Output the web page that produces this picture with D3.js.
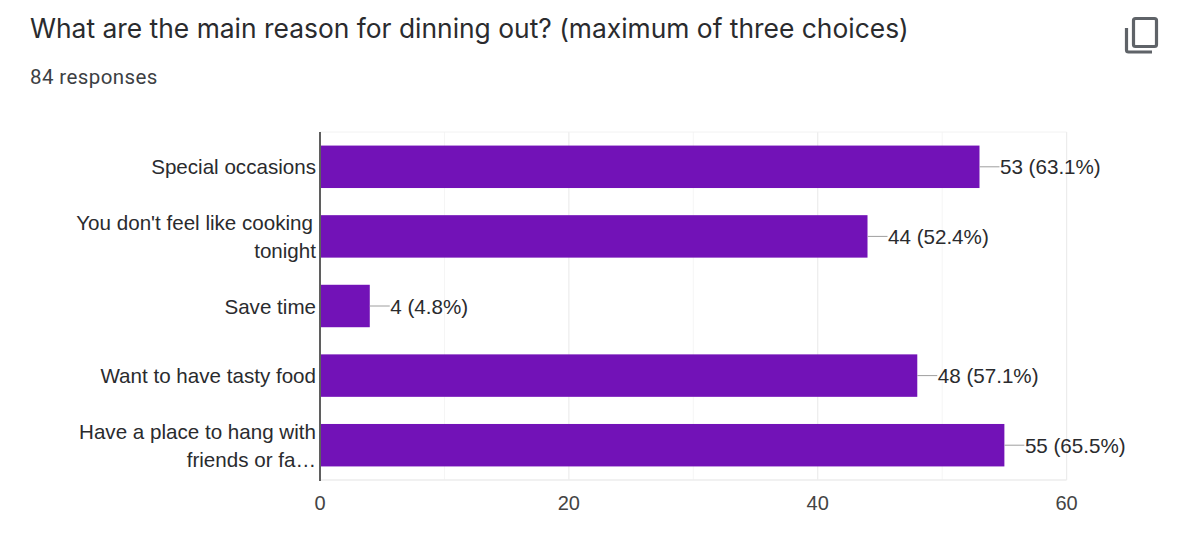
<!DOCTYPE html>
<html>
<head>
<meta charset="utf-8">
<script src="https://cdn.jsdelivr.net/npm/d3@7"></script>
<style>
  html, body { margin: 0; padding: 0; background: #fff; }
  svg { display: block; }
</style>
</head>
<body>
<svg id="chart" width="1186" height="533"></svg>
<script>
// Survey responses for each reason
const categories = ["Special occasions", "You don't feel like cooking tonight", "Save time", "Want to have tasty food", "Have a place to hang with friends or fa…"];
const categoryLines = [["Special occasions"], ["You don't feel like cooking", "tonight"], ["Save time"], ["Want to have tasty food"], ["Have a place to hang with", "friends or fa…"]];
const counts = [53, 44, 4, 48, 55];
const percents = ["63.1%", "52.4%", "4.8%", "57.1%", "65.5%"];
const majorTicks = [0, 20, 40, 60];
const minorTicks = [10, 30, 50];
const titleText = "What are the main reason for dinning out? (maximum of three choices)";
const responsesText = "84 responses";

const svg = d3.select("#chart");
const sans = "Arial, 'Liberation Sans', sans-serif";
const inkDark = "#2a2b2e";

const x = d3.scaleLinear().domain([0, 60]).range([320, 1066.6]);
const y = d3.scaleBand().domain(categories).range([132, 480]).paddingInner(0.39).paddingOuter(0.195);

// Heading and response count
svg.append("text").attr("x", 30).attr("y", 37.5)
  .attr("font-family", "Inter, Roboto, sans-serif").attr("font-size", 26.4)
  .attr("fill", inkDark).text(titleText);
svg.append("text").attr("x", 30).attr("y", 83.5)
  .attr("font-family", "Roboto, sans-serif").attr("font-size", 20.5).attr("letter-spacing", 0.4)
  .attr("fill", "#3c4043").text(responsesText);

// Copy icon at the top right
const icon = svg.append("g").attr("fill", "none").attr("stroke", "#5f6368").attr("stroke-width", 3.2);
icon.append("rect").attr("x", 1133.5).attr("y", 18.5).attr("width", 23).attr("height", 28).attr("rx", 2);
icon.append("path").attr("d", "M1126.5 28 V50 a2 2 0 0 0 2 2 H1152");

// Vertical gridlines, the minor ones fainter
const grid = svg.append("g");
grid.selectAll("line.minor").data(minorTicks).join("line").attr("class", "minor")
  .attr("x1", d => x(d)).attr("x2", d => x(d)).attr("y1", 132).attr("y2", 480)
  .attr("stroke", "#f5f5f5").attr("stroke-width", 1);
grid.selectAll("line.major").data(majorTicks.slice(1)).join("line").attr("class", "major")
  .attr("x1", d => x(d)).attr("x2", d => x(d)).attr("y1", 132).attr("y2", 480)
  .attr("stroke", "#ececec").attr("stroke-width", 1.2);
svg.append("line").attr("x1", 320).attr("x2", x(60)).attr("y1", 132).attr("y2", 132)
  .attr("stroke", "#f2f2f2");
svg.append("line").attr("x1", 320).attr("x2", x(60)).attr("y1", 480).attr("y2", 480)
  .attr("stroke", "#ececec").attr("stroke-width", 1.5);

// Bars
svg.append("g").selectAll("rect").data(counts).join("rect")
  .attr("x", x(0))
  .attr("y", (d, i) => y(categories[i]))
  .attr("width", d => x(d) - x(0))
  .attr("height", y.bandwidth())
  .attr("fill", "#7212b7");

// Leader lines and value labels
const labels = svg.append("g");
labels.selectAll("line").data(counts).join("line")
  .attr("x1", d => x(d)).attr("x2", d => x(d) + 20)
  .attr("y1", (d, i) => y(categories[i]) + y.bandwidth() / 2)
  .attr("y2", (d, i) => y(categories[i]) + y.bandwidth() / 2)
  .attr("stroke", "#9e9e9e").attr("stroke-width", 1);
labels.selectAll("text").data(counts).join("text")
  .attr("x", d => x(d) + 20.5)
  .attr("y", (d, i) => y(categories[i]) + y.bandwidth() / 2 + 7.6)
  .attr("font-family", sans).attr("font-size", 20.6).attr("fill", inkDark)
  .text((d, i) => `${d} (${percents[i]})`);

// Category labels, wrapped the way the axis breaks them
const cats = svg.append("g");
categories.forEach((c, i) => {
  const lines = categoryLines[i];
  const mid = y(c) + y.bandwidth() / 2;
  lines.forEach((t, j) => {
    cats.append("text")
      .attr("x", t.startsWith("You") ? 313 : 316)
      .attr("y", mid + 7.6 + (j - (lines.length - 1) / 2) * 28)
      .attr("text-anchor", "end")
      .attr("font-family", sans).attr("font-size", 20.6).attr("fill", inkDark)
      .text(t);
  });
});

// Category axis line
svg.append("line").attr("x1", 320).attr("x2", 320).attr("y1", 132).attr("y2", 481)
  .attr("stroke", "#5f5f5f").attr("stroke-width", 2);

// Value axis labels
const axis = svg.append("g").attr("transform", "translate(-0.5,480)")
  .call(d3.axisBottom(x).tickValues(majorTicks).tickSize(0).tickPadding(16));
axis.select(".domain").remove();
axis.selectAll("text").attr("font-family", sans).attr("font-size", 20).attr("fill", "#444");
</script>
</body>
</html>
